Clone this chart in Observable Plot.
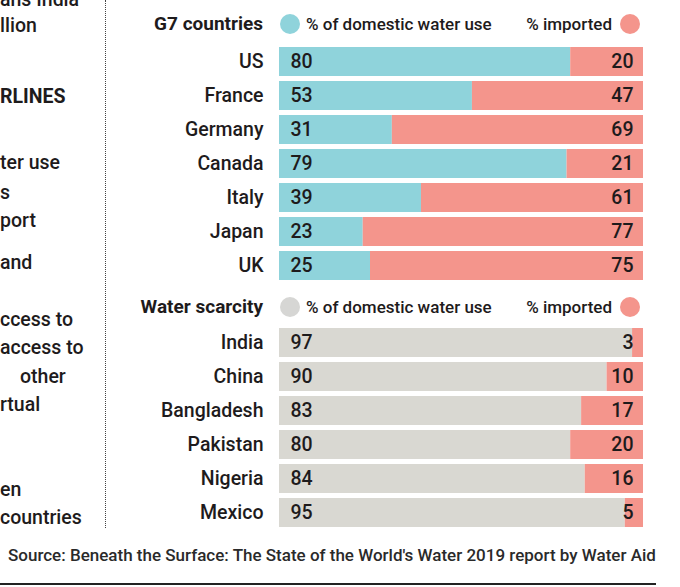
<!DOCTYPE html>
<html><head><meta charset="utf-8">
<script src="https://cdn.jsdelivr.net/npm/d3@7"></script>
<script src="https://cdn.jsdelivr.net/npm/@observablehq/plot@0.6"></script>
<style>
body{margin:0;background:#fff;width:680px;height:587px;overflow:hidden;position:relative;
  font-family:Roboto,"DejaVu Sans Condensed",sans-serif;color:#1e1b1c;font-weight:500}
.lt{position:absolute;left:0;font-size:19.5px;line-height:26px;white-space:nowrap;color:#1e1b1c}
.dots{position:absolute;left:105px;top:0;height:528px;border-left:1.5px dotted #444}
.head{position:absolute;left:0;width:680px;height:28px}
.head .title{position:absolute;right:417px;top:0;font-weight:bold;font-size:19px;line-height:28px}
.head .dot{position:absolute;width:20px;height:20px;border-radius:50%;top:4px}
.head .lab{position:absolute;top:0;font-size:17px;line-height:28px}
.source{position:absolute;left:8px;top:545px;font-size:17px;color:#2a2a2a;white-space:nowrap}
.rule{position:absolute;left:0;top:583px;width:656px;height:2px;background:#222}
.panel{position:absolute;left:0}
</style></head><body>
<div class="lt" style="top:-13px">ans India</div>
<div class="lt" style="top:13px">llion</div>
<div class="lt" style="top:84px;font-weight:bold">RLINES</div>
<div class="lt" style="top:150px">ter use</div>
<div class="lt" style="top:180px">s</div>
<div class="lt" style="top:208px">port</div>
<div class="lt" style="top:250px">and</div>
<div class="lt" style="top:307px">ccess to</div>
<div class="lt" style="top:335px">access to</div>
<div class="lt" style="top:364px;left:20px">other</div>
<div class="lt" style="top:392px">rtual</div>
<div class="lt" style="top:477px">en</div>
<div class="lt" style="top:505px">countries</div>
<div class="dots"></div>
<div id="h1" class="head" style="top:10px"></div>
<div id="p1" class="panel"></div>
<div id="h2" class="head" style="top:293px"></div>
<div id="p2" class="panel"></div>
<div class="source">Source: Beneath the Surface: The State of the World's Water 2019 report by Water Aid</div>
<div class="rule"></div>
<script>
const g7Countries = ["US","France","Germany","Canada","Italy","Japan","UK"];
const g7Domestic = [80,53,31,79,39,23,25];
const g7Imported = [20,47,69,21,61,77,75];
const scarcityCountries = ["India","China","Bangladesh","Pakistan","Nigeria","Mexico"];
const scarcityDomestic = [97,90,83,80,84,95];
const scarcityImported = [3,10,17,20,16,5];
const seriesLabels = ["% of domestic water use","% imported"];
const groupTitles = ["G7 countries","Water scarcity"];
const colorG7 = "#8fd3db";
const colorScarcity = "#d9d8d2";
const colorScarcityDot = "#d6d6d4";
const colorImported = "#f4958c";
const fontFamily = 'Roboto,"DejaVu Sans Condensed",sans-serif';

function header(el, title, domColor) {
  el.innerHTML =
    `<div class="title">${title}</div>` +
    `<div class="dot" style="left:280px;background:${domColor}"></div>` +
    `<div class="lab" style="left:306px">${seriesLabels[0]}</div>` +
    `<div class="lab" style="right:68px">${seriesLabels[1]}</div>` +
    `<div class="dot" style="left:620px;background:${colorImported}"></div>`;
}

function panel(el, top, countries, dom, imp, domColor) {
  const rows = countries.flatMap((c, i) => [
    {country: c, part: "domestic", value: dom[i]},
    {country: c, part: "imported", value: imp[i]}
  ]);
  const labels = countries.map((c, i) => ({country: c, dom: dom[i], imp: imp[i]}));
  const step = 34.1;
  const chart = Plot.plot({
    width: 680,
    height: Math.round(step * countries.length),
    marginLeft: 279, marginRight: 37, marginTop: 0, marginBottom: 0,
    style: {fontFamily, fontSize: "19.5px", fontWeight: 500, color: "#1e1b1c", background: "transparent", overflow: "visible"},
    x: {domain: [0, 100], axis: null},
    y: {domain: countries, paddingInner: 0.16, paddingOuter: 0.08, label: null, tickSize: 0, tickPadding: 16},
    color: {domain: ["domestic", "imported"], range: [domColor, colorImported]},
    marks: [
      Plot.barX(rows, Plot.stackX({x: "value", y: "country", fill: "part"})),
      Plot.text(labels, {y: "country", text: "dom", frameAnchor: "left", textAnchor: "start", dx: 11, fill: "#1e1b1c"}),
      Plot.text(labels, {y: "country", text: "imp", frameAnchor: "right", textAnchor: "end", dx: -10, fill: "#1e1b1c"})
    ]
  });
  el.style.top = top + "px";
  el.appendChild(chart);
}

header(document.getElementById("h1"), groupTitles[0], colorG7);
header(document.getElementById("h2"), groupTitles[1], colorScarcityDot);
panel(document.getElementById("p1"), 44, g7Countries, g7Domestic, g7Imported, colorG7);
panel(document.getElementById("p2"), 325, scarcityCountries, scarcityDomestic, scarcityImported, colorScarcity);
</script>
</body></html>
